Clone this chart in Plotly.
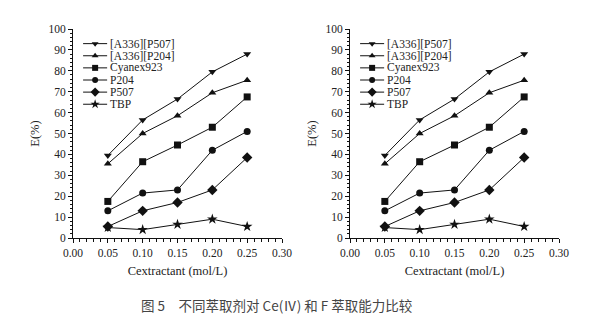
import plotly.graph_objects as go

conc = [0.05, 0.10, 0.15, 0.20, 0.25]
series_names = ["[A336][P507]", "[A336][P204]", "Cyanex923", "P204", "P507", "TBP"]
a336_p507 = [39.5, 56.5, 66.5, 79.5, 88.0]
a336_p204 = [35.5, 50.0, 58.5, 69.5, 75.5]
cyanex923 = [17.5, 36.5, 44.5, 53.0, 67.5]
p204 = [13.0, 21.5, 23.0, 42.0, 51.0]
p507 = [5.5, 13.0, 17.0, 23.0, 38.5]
tbp = [5.0, 4.0, 6.5, 9.0, 5.5]
series_values = [a336_p507, a336_p204, cyanex923, p204, p507, tbp]
symbols = ["triangle-down", "triangle-up", "square", "circle", "diamond", "star"]
marker_sizes = [7, 7, 7, 7, 8, 8]

x_title = "Cextractant (mol/L)"
y_title = "E(%)"
caption = "图 5\u3000不同萃取剂对 Ce(Ⅳ) 和 F 萃取能力比较"

W, H = 589, 324
X_RANGE = [0, 0.30]
Y_RANGE = [0, 100]
# pixel layout of the two panels
panels = [(73, 282), (350, 559)]
Y_TOP, Y_BOT = 29, 238

SERIF = "Liberation Serif, serif"

fig = go.Figure()

# legend geometry (data coords within each panel)
leg_x0, leg_x1 = 0.0145, 0.049
leg_text_x = 0.051
leg_y_top, leg_step = 93.0, 5.8

for p, (px0, px1) in enumerate(panels):
    xa = "x" if p == 0 else "x2"
    ya = "y" if p == 0 else "y2"
    for i, (name, vals) in enumerate(zip(series_names, series_values)):
        fig.add_trace(go.Scatter(
            x=conc, y=vals, mode="lines+markers", name=name, showlegend=False,
            line=dict(color="#111", width=1),
            marker=dict(symbol=symbols[i], size=marker_sizes[i], color="#111"),
            xaxis=xa, yaxis=ya))
        ly = leg_y_top - i * leg_step
        fig.add_trace(go.Scatter(
            x=[leg_x0, leg_x1], y=[ly, ly], mode="lines", showlegend=False,
            line=dict(color="#111", width=1), xaxis=xa, yaxis=ya, hoverinfo="skip"))
        fig.add_trace(go.Scatter(
            x=[(leg_x0 + leg_x1) / 2], y=[ly], mode="markers", showlegend=False,
            marker=dict(symbol=symbols[i], size=marker_sizes[i] - 1, color="#111"),
            xaxis=xa, yaxis=ya, hoverinfo="skip"))
        fig.add_annotation(x=leg_text_x, y=ly, xref=xa, yref=ya, text=name,
                           showarrow=False, xanchor="left", yanchor="middle",
                           borderpad=0,
                           font=dict(family=SERIF, size=11.5, color="#222"))

axis_common = dict(showline=True, linecolor="#111", linewidth=1, mirror=False,
                   showgrid=False, zeroline=False, ticks="outside", ticklen=4,
                   tickcolor="#111", automargin=False,
                   tickfont=dict(family=SERIF, size=11.5, color="#222"))

layout = dict(width=W, height=H, margin=dict(l=0, r=0, t=0, b=0, autoexpand=False),
              paper_bgcolor="white", plot_bgcolor="white", showlegend=False,
              font=dict(family=SERIF))

for p, (px0, px1) in enumerate(panels):
    sfx = "" if p == 0 else "2"
    dom_x = [px0 / W, px1 / W]
    dom_y = [1 - Y_BOT / H, 1 - Y_TOP / H]
    layout["xaxis" + sfx] = dict(axis_common, domain=dom_x, range=X_RANGE,
                                 dtick=0.05, tick0=0, tickformat=".2f",
                                 minor=dict(dtick=0.01, ticks="outside", ticklen=2.5, tickcolor="#111"),
                                 title=dict(text=x_title, standoff=8,
                                            font=dict(family=SERIF, size=12.5, color="#222")),
                                 anchor="y" + sfx)
    layout["yaxis" + sfx] = dict(axis_common, domain=dom_y, range=Y_RANGE,
                                 dtick=10, tick0=0,
                                 minor=dict(dtick=2, ticks="outside", ticklen=2.5, tickcolor="#111"),
                                 title=dict(text=y_title, standoff=6,
                                            font=dict(family=SERIF, size=12.5, color="#222")),
                                 anchor="x" + sfx)

fig.update_layout(**layout)

fig.add_annotation(x=277 / W, y=1 - 305 / H, xref="paper", yref="paper",
                   text=caption, showarrow=False, xanchor="center", yanchor="middle",
                   font=dict(family="Noto Sans CJK SC", size=13.5, color="#444"))

fig.write_html("out.html")
